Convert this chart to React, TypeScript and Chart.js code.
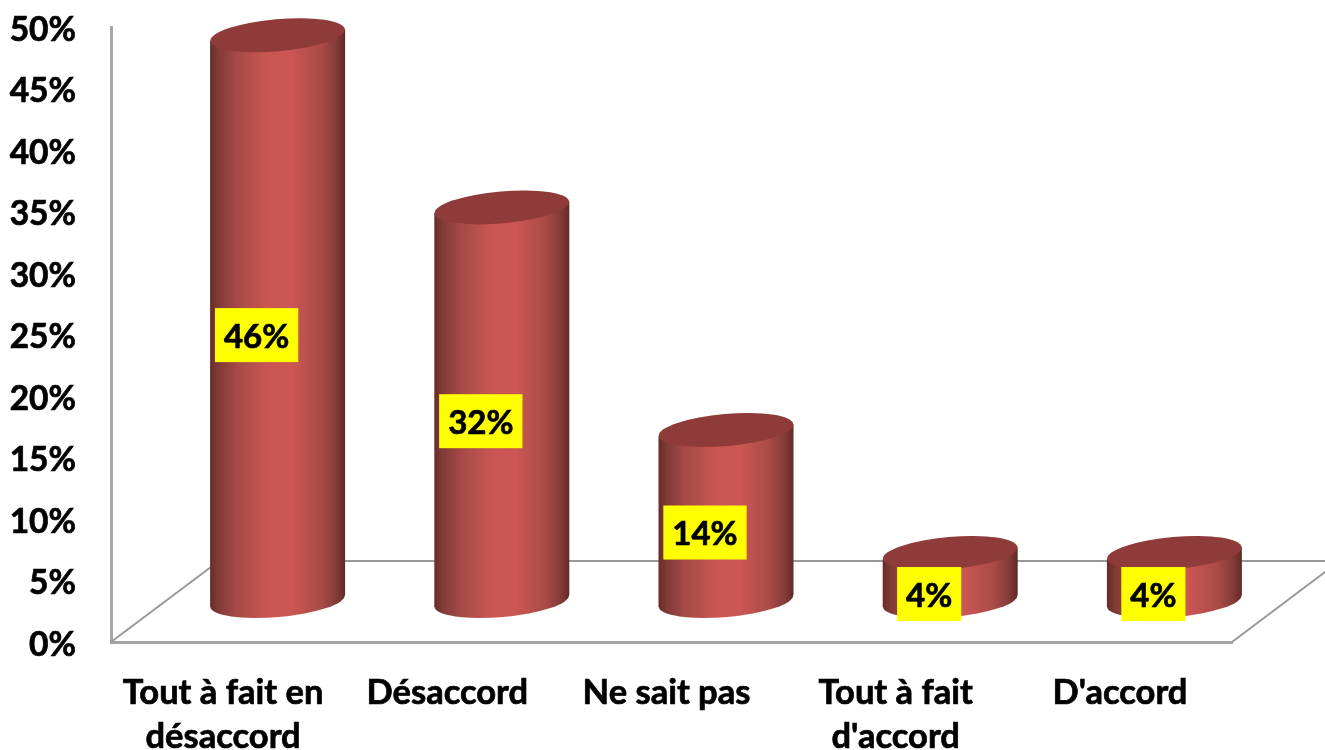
import React, { useEffect, useRef } from "react";
import { Chart, registerables, BarController, BarElement } from "chart.js";

const categories = [["Tout à fait en", "désaccord"], "Désaccord", "Ne sait pas", ["Tout à fait", "d'accord"], "D'accord"];
const values = [46, 32, 13.9, 3.9, 3.9];
const valueLabels = ["46%", "32%", "14%", "4%", "4%"];

const FONT = "Lato, Carlito, sans-serif";
const DEPTH_X = 54.5;
const DEPTH_Y = -41;
const RY = 16;
const TILT = (-5 * Math.PI) / 180;

class CylinderElement extends BarElement {
  static id = "cylinder";
  draw(ctx: CanvasRenderingContext2D) {
    const { x, y, base, width } = (this as any).getProps(["x", "y", "base", "width"]);
    const cx = x + DEPTH_X;
    const top = y + DEPTH_Y;
    const bottom = base + DEPTH_Y;
    const rx = width / 2;
    const g = ctx.createLinearGradient(cx - rx, 0, cx + rx, 0);
    g.addColorStop(0, "#662c2a");
    g.addColorStop(0.06, "#803a37");
    g.addColorStop(0.2, "#a54a47");
    g.addColorStop(0.42, "#c95552");
    g.addColorStop(0.6, "#cc5653");
    g.addColorStop(0.82, "#aa4b48");
    g.addColorStop(0.94, "#823a37");
    g.addColorStop(1, "#5f2927");
    const dy = rx * Math.sin(-TILT);
    ctx.save();
    ctx.beginPath();
    ctx.moveTo(cx - rx, top + dy);
    ctx.lineTo(cx + rx, top - dy);
    ctx.lineTo(cx + rx, bottom - dy);
    ctx.lineTo(cx - rx, bottom + dy);
    ctx.closePath();
    ctx.fillStyle = g;
    ctx.fill();
    ctx.beginPath();
    ctx.ellipse(cx, bottom, rx, RY, TILT, 0, Math.PI * 2);
    ctx.fill();
    ctx.beginPath();
    ctx.ellipse(cx, top, rx, RY, TILT, 0, Math.PI * 2);
    ctx.fillStyle = "#8f3b39";
    ctx.fill();
    ctx.restore();
  }
}

class CylinderController extends BarController {
  static id = "cylinder";
  static defaults = { ...(BarController as any).defaults, dataElementType: "cylinder" };
}

Chart.register(...registerables, CylinderElement as any, CylinderController as any);

const floorPlugin = {
  id: "floor",
  beforeDraw(chart: any) {
    // Nudge tick labels to sit where the reference has them.
    chart.scales.y.getLabelItems().forEach((item: any) => {
      if (!item.__nudged) {
        item.textOffset += 3;
        item.__nudged = true;
      }
    });
    const neSaitPas = chart.scales.x.getLabelItems()[2];
    if (neSaitPas && !neSaitPas.__nudged) {
      neSaitPas.options.translation = [neSaitPas.options.translation[0] - 5, neSaitPas.options.translation[1]];
      neSaitPas.__nudged = true;
    }
  },
  beforeDatasetsDraw(chart: any) {
    const { ctx, chartArea: a } = chart;
    ctx.save();
    ctx.strokeStyle = "#999999";
    ctx.lineWidth = 2;
    ctx.beginPath();
    ctx.moveTo(a.left, a.bottom);
    ctx.lineTo(a.left + 100, a.bottom - 75);
    ctx.moveTo(a.left + 100, a.bottom - 81);
    ctx.lineTo(1325, a.bottom - 81);
    ctx.moveTo(a.right, a.bottom);
    ctx.lineTo(a.right + 93, a.bottom - 70);
    ctx.stroke();
    ctx.restore();
  },
  afterDatasetsDraw(chart: any) {
    const { ctx } = chart;
    const meta = chart.getDatasetMeta(0);
    ctx.save();
    ctx.font = `700 33px ${FONT}`;
    ctx.textAlign = "center";
    ctx.textBaseline = "middle";
    ctx.lineWidth = 0.7;
    ctx.strokeStyle = "#000000";
    meta.data.forEach((el: any, i: number) => {
      const label = valueLabels[i];
      const w = ctx.measureText(label).width + 18;
      const h = 54;
      const cx = el.x + DEPTH_X - 21;
      const cy = (el.y + el.base) / 2 + DEPTH_Y + 17;
      ctx.fillStyle = "#ffff00";
      ctx.fillRect(cx - w / 2, cy - h / 2, w, h);
      ctx.fillStyle = "#000000";
      ctx.strokeText(label, cx, cy + 2);
      ctx.fillText(label, cx, cy + 2);
    });
    ctx.restore();
  },
};

export default function App() {
  const ref = useRef<HTMLCanvasElement>(null);
  useEffect(() => {
    const chart = new Chart(ref.current as HTMLCanvasElement, {
      type: "cylinder" as any,
      data: {
        labels: categories as any,
        datasets: [{ data: values, barThickness: 135, clip: false } as any],
      },
      plugins: [floorPlugin],
      options: {
        responsive: false,
        animation: false,
        layout: { padding: { top: 27, right: 93, left: 0, bottom: 0 } },
        plugins: { legend: { display: false }, tooltip: { enabled: false } },
        scales: {
          x: {
            type: "category",
            offset: true,
            grid: { display: false, drawTicks: false },
            border: { display: true, color: "#a6a6a6", width: 3 },
            afterFit(s: any) {
              s.height = 108;
              s.paddingLeft = 0;
              s.paddingRight = 0;
            },
            ticks: {
              color: "#000000",
              padding: 29,
              maxRotation: 0,
              autoSkip: false,
              textStrokeColor: "#000000",
              textStrokeWidth: 0.7,
              font: { family: FONT, weight: 700, size: 34.5, lineHeight: 44 / 34.5 },
            },
          },
          y: {
            type: "linear",
            min: 0,
            max: 50,
            grid: { display: false, drawTicks: false },
            border: { display: true, color: "#a6a6a6", width: 3 },
            afterFit(s: any) {
              s.width = 111;
              s.paddingTop = 0;
              s.paddingBottom = 0;
            },
            ticks: {
              color: "#000000",
              stepSize: 5,
              padding: 35,
              textStrokeColor: "#000000",
              textStrokeWidth: 0.7,
              callback: (v: any) => `${v}%`,
              font: { family: FONT, weight: 700, size: 33.5 },
            },
          },
        },
      } as any,
    });
    return () => chart.destroy();
  }, []);
  return (
    <div style={{ position: "absolute", left: 0, top: 0, width: 1325, height: 750, background: "#ffffff" }}>
      <canvas ref={ref} width={1325} height={750} style={{ display: "block" }} />
    </div>
  );
}
